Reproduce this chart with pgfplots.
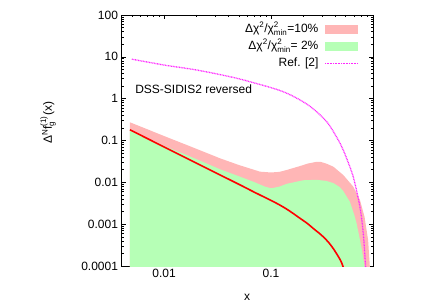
\documentclass[border=0pt]{standalone}
\usepackage{fontspec}
\setmainfont{Liberation Sans}
\usepackage{amsmath}
\usepackage{pgfplots}
\pgfplotsset{compat=1.18}
\definecolor{pinkfill}{RGB}{255,182,182}
\definecolor{greenfill}{RGB}{182,255,182}
\definecolor{refmag}{RGB}{255,40,255}
\begin{document}
\begin{tikzpicture}[font=\fontsize{12}{14}\selectfont]
\path[use as bounding box] (-121.5pt,-39pt) rectangle (314.5pt,266pt);
\begin{axis}[
  at={(0pt,0pt)}, anchor=south west,
  scale only axis, width=251.5pt, height=251pt,
  xmode=log, ymode=log,
  xmin=0.004, xmax=0.9, ymin=0.0001, ymax=100,
  xtick={0.001,0.01,0.1,1},
  xticklabel={\pgfmathparse{exp(\tick)}\pgfmathprintnumber[fixed relative, precision=1, assume math mode=true]{\pgfmathresult}},
  ytick={0.0001,0.001,0.01,0.1,1,10,100},
  yticklabels={0.0001,0.001,0.01,0.1,1,10,100},
  axis line style={line width=0.8pt},
  every tick/.style={black, line width=0.5pt},
  major tick length=4.5pt, minor tick length=2.5pt,
  xlabel={x},
  xlabel style={at={(axis description cs:0.5,-0.1235)}, anchor=center},
  ylabel={Δ$^{\text{N}}$f$^{\text{(1)}}_{\text{g}}$(x)},
  ylabel style={at={(axis description cs:-0.292,0.57)}, anchor=center},
  legend cell align=right, legend plot pos=right,
  legend style={at={(axis description cs:0.944,0.976)}, anchor=north east,
    draw=none, fill=none, inner sep=0pt, row sep=1pt, column sep=4pt,
    nodes={inner sep=2pt, text height=9pt, text depth=3pt}},
]
\addplot[fill=pinkfill, draw=none,
  legend image code/.code={\fill[pinkfill] (0pt,-4.5pt) rectangle (33pt,4.5pt);}]
  coordinates {(0.0048,0.00001)(0.0048,0.272)(0.007,0.185)(0.01,0.128)(0.015,0.085)(0.02,0.0635)(0.0334,0.0375)(0.05,0.026)(0.0789,0.018)(0.1,0.0172)(0.12,0.0178)(0.14,0.0197)(0.187,0.0245)(0.22,0.028)(0.267,0.031)(0.29,0.031)(0.33,0.028)(0.383,0.0237)(0.474,0.015)(0.588,0.0079)(0.679,0.0038)(0.75,0.0015)(0.81,0.00042)(0.84,0.0001)(0.85,0.00005)(0.85,0.00001)};
\addlegendentry{Δχ$^{\text{2}}$/χ$^{\text{2}}_{\text{min}}$=10\%}
\addplot[fill=greenfill, draw=none,
  legend image code/.code={\fill[greenfill] (0pt,-4.5pt) rectangle (33pt,4.5pt);}]
  coordinates {(0.0048,0.00001)(0.0048,0.185)(0.007,0.114)(0.01,0.074)(0.0163,0.045)(0.0334,0.0205)(0.05,0.014)(0.068,0.0104)(0.088,0.0079)(0.1,0.0072)(0.12,0.0079)(0.14,0.0092)(0.2,0.0112)(0.267,0.0115)(0.33,0.0108)(0.383,0.0096)(0.44,0.0077)(0.474,0.0062)(0.548,0.0034)(0.6,0.0017)(0.632,0.00105)(0.7,0.00029)(0.75,0.0001)(0.77,0.00005)(0.77,0.00001)};
\addlegendentry{Δχ$^{\text{2}}$/χ$^{\text{2}}_{\text{min}}$= 2\%}
\addplot[red, line width=1.6pt, smooth, forget plot]
  coordinates {(0.0048,0.180)(0.007,0.111)(0.01,0.070)(0.015,0.0418)(0.02,0.0289)(0.03,0.0172)(0.05,0.0090)(0.07,0.0058)(0.1,0.0037)(0.12,0.0029)(0.14,0.0023)(0.16,0.00183)(0.187,0.00138)(0.22,0.00103)(0.25,0.00078)(0.28,0.00062)(0.308,0.0005)(0.345,0.00037)(0.383,0.00026)(0.42,0.00018)(0.45,0.000132)(0.47,0.0001)(0.5,0.00006)};
\addplot[refmag, line width=1.3pt, dash pattern=on 0.9pt off 0.7pt, smooth,
  legend image code/.code={\draw[refmag, line width=1.3pt, dash pattern=on 0.9pt off 0.7pt] (0pt,0pt) -- (33pt,0pt);}]
  coordinates {(0.005,8.8)(0.0099,6.4)(0.0202,4.84)(0.0414,3.35)(0.0637,2.54)(0.13,1.47)(0.223,0.705)(0.332,0.281)(0.426,0.103)(0.474,0.059)(0.51,0.0375)(0.588,0.0136)(0.679,0.0026)(0.73,0.0006)(0.767,0.0001)(0.78,0.00005)};
\addlegendentry{Ref. [2]}
\node[anchor=west, inner sep=0pt] at (axis description cs:0.054,0.706) {DSS-SIDIS2 reversed};
\end{axis}
\end{tikzpicture}
\end{document}
